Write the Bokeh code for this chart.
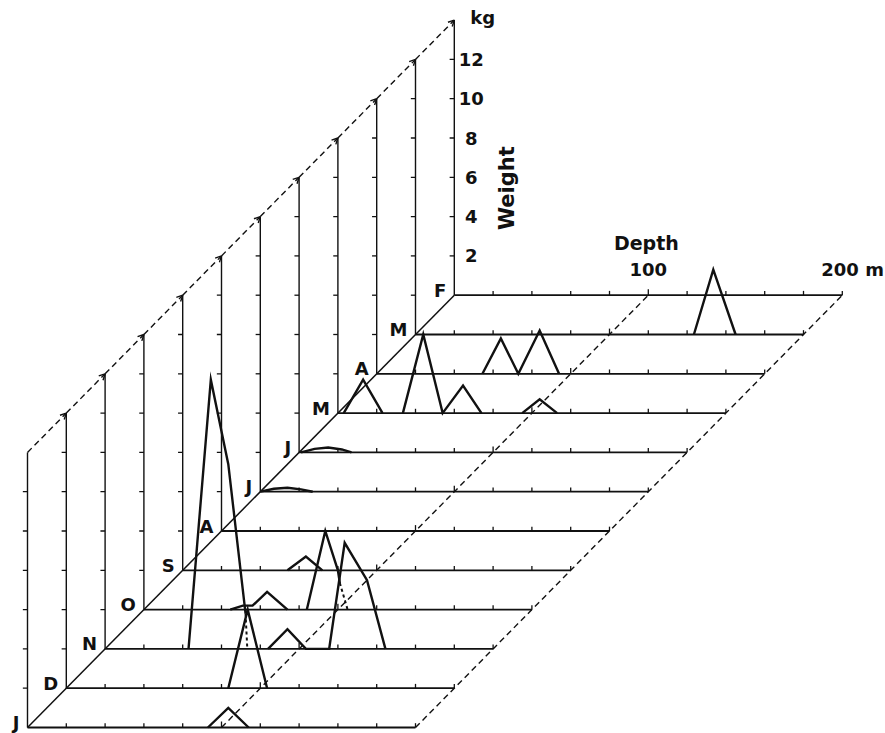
import math
from bokeh.plotting import figure
from bokeh.models import Range1d, Arrow, OpenHead, ColumnDataSource
from bokeh.core.properties import value
from bokeh.embed import file_html
from bokeh.resources import INLINE

# ---------------- data ----------------
# months, from the front row (index 0) to the back row (index 11)
months = ["J", "D", "N", "O", "S", "A", "J", "J", "M", "A", "M", "F"]
depth_ticks = [20, 40, 60, 80, 100, 120, 140, 160, 180, 200]
weight_ticks = [2, 4, 6, 8, 10, 12]
weight_labels = ["2", "4", "6", "8", "10", "12"]
depth_max = 200
weight_max = 14

# catch profiles: depth (m) and weight (kg); None separates pieces
jan_depth = [93, 103.5, 114]
jan_kg = [0, 1.0, 0]
dec_depth = [83.5, 93.5, 103.5]
dec_kg = [0, 4.0, 0]
nov_depth = [43, 54.5, 63.5, 72.4, None, 84, 94, 103.5, 115.5, 123.5, 135, 144.5]
nov_kg = [0, 13.7, 9.4, 1.8, None, 0, 1.0, 0, 0, 5.4, 3.5, 0]
oct_depth = [44.5, 51, 56, 63.5, 74, None, 84, 93.5, 100, 101]
oct_kg = [0, 0.2, 0.2, 0.9, 0, None, 0, 4.0, 2.0, 1.35]
sep_depth = [54, 63.5, 72]
sep_kg = [0, 0.7, 0]
aug_depth = []
aug_kg = []
jul_depth = [0, 7, 14, 21, 27]
jul_kg = [0, 0.15, 0.2, 0.12, 0]
jun_depth = [1, 8, 15, 22, 27]
jun_kg = [0, 0.18, 0.25, 0.15, 0]
may_depth = [3, 13, 23, None, 33.5, 44, 54, 64.5, 74, None, 95, 104, 113]
may_kg = [0, 1.7, 0, None, 0, 4.0, 0, 1.4, 0, None, 0, 0.7, 0]
apr_depth = [54.5, 64, 73, 84, 94]
apr_kg = [0, 1.8, 0, 2.2, 0]
mar_depth = [143.5, 153.5, 165]
mar_kg = [0, 3.3, 0]
feb_depth = []
feb_kg = []

# dashed (hidden) stretches
nov_dash_depth = [72.4, 73.3]
nov_dash_kg = [1.8, 0]
oct_dash_depth = [101, 105]
oct_dash_kg = [1.35, 0]

profiles = [
    (jan_depth, jan_kg), (dec_depth, dec_kg), (nov_depth, nov_kg),
    (oct_depth, oct_kg), (sep_depth, sep_kg), (aug_depth, aug_kg),
    (jul_depth, jul_kg), (jun_depth, jun_kg), (may_depth, may_kg),
    (apr_depth, apr_kg), (mar_depth, mar_kg), (feb_depth, feb_kg),
]
dashed = [(2, nov_dash_depth, nov_dash_kg), (3, oct_dash_depth, oct_dash_kg)]

# ---------------- oblique projection ----------------
STEP_D = 20.0   # depth shift per month row
STEP_W = 2.0    # weight shift per month row
n = len(months)


def px(d, i):
    return d + STEP_D * i


def py(w, i):
    return w + STEP_W * i


W, H = 885, 733
sx, sy = 1.94, 19.65
x0 = -27 / sx
y_top = 727 / sy
p = figure(width=W, height=H, output_backend="svg", toolbar_location=None,
           x_range=Range1d(x0, x0 + W / sx), y_range=Range1d(y_top - H / sy, y_top),
           x_axis_location=None, y_axis_location=None, min_border=0)
p.grid.visible = False
p.outline_line_color = None
p.background_fill_color = "white"
p.border_fill_color = "white"

ink = "#111111"
FONT = value("DejaVu Sans")

# guide dashed lines at 100 m and 200 m
for d in (100, depth_max):
    p.line([px(d, i) for i in range(n)], [py(0, i) for i in range(n)],
           line_color=ink, line_width=1.4, line_dash="6 4")

# dashed line along tops of the weight axes, with arrow heads
src = ColumnDataSource(dict(
    xs=[px(0, i) for i in range(n - 1)], ys=[py(weight_max, i) for i in range(n - 1)],
    xe=[px(0, i + 1) for i in range(n - 1)], ye=[py(weight_max, i + 1) for i in range(n - 1)]))
p.add_layout(Arrow(source=src, x_start="xs", y_start="ys", x_end="xe", y_end="ye",
                   line_color=ink, line_width=1.4, line_dash="6 4",
                   end=OpenHead(size=6, line_width=1.4, line_color=ink)))

# diagonal month axis
p.line([px(0, 0), px(0, n - 1)], [py(0, 0), py(0, n - 1)], line_color=ink, line_width=1.5)

# base lines (depth axes)
p.multi_line([[px(0, i), px(depth_max, i)] for i in range(n)],
             [[py(0, i), py(0, i)] for i in range(n)], line_color=ink, line_width=1.8)
# depth ticks
tx, ty0, ty1 = [], [], []
for i in range(n):
    for d in depth_ticks:
        tx.append(px(d, i))
        ty0.append(py(0, i))
        ty1.append(py(0.22 if d != 100 else 0.3, i))
p.segment(tx, ty0, tx, ty1, line_color=ink, line_width=1.3)

# vertical weight axes
p.segment([px(0, i) for i in range(n)], [py(0, i) for i in range(n)],
          [px(0, i) for i in range(n)], [py(weight_max, i) for i in range(n)],
          line_color=ink, line_width=1.4)
wx0, wx1, wy = [], [], []
for i in range(n):
    for w in weight_ticks:
        wx0.append(px(0, i) - 2.4)
        wx1.append(px(0, i))
        wy.append(py(w, i))
p.segment(wx0, wy, wx1, wy, line_color=ink, line_width=1.3)

# profiles
for i, (dd, kk) in enumerate(profiles):
    if not dd:
        continue
    xs = [float("nan") if d is None else px(d, i) for d in dd]
    ys = [float("nan") if k is None else py(k, i) for k in kk]
    p.line(xs, ys, line_color=ink, line_width=2.4, line_join="miter")
for i, dd, kk in dashed:
    p.line([px(d, i) for d in dd], [py(k, i) for k in kk],
           line_color=ink, line_width=2.0, line_dash="3 3")

# ---------------- texts ----------------
common = dict(text_font=FONT, text_font_style="bold", text_color=ink)
p.text([px(0, i) for i in range(n)], [py(0.25, i) for i in range(n)], text=months,
       text_align="right", text_baseline="middle", x_offset=-8, text_font_size="18px", **common)

back = n - 1
p.text([px(0, back)] * len(weight_ticks), [py(w, back) for w in weight_ticks],
       text=weight_labels, text_align="center", text_baseline="middle", x_offset=17,
       text_font_size="18px", **common)
p.text([px(0, back)], [py(weight_max + 0.15, back)], text=["kg"],
       text_align="left", text_baseline="middle", x_offset=16, text_font_size="18px", **common)
p.text([px(0, back)], [py(5.45, back)], text=["Weight"], angle=math.pi / 2,
       text_align="center", text_baseline="middle", x_offset=53, text_font_size="21px", **common)
p.text([px(99, back)], [py(2.65, back)], text=["Depth"],
       text_align="center", text_baseline="middle", text_font_size="19px", **common)
p.text([px(100, back)], [py(1.3, back)], text=["100"],
       text_align="center", text_baseline="middle", text_font_size="18px", **common)
p.text([px(depth_max, back)], [py(1.3, back)], text=["200 m"],
       text_align="left", text_baseline="middle", x_offset=-21, text_font_size="18px", **common)

open("out.html", "w").write(file_html(p, INLINE))
